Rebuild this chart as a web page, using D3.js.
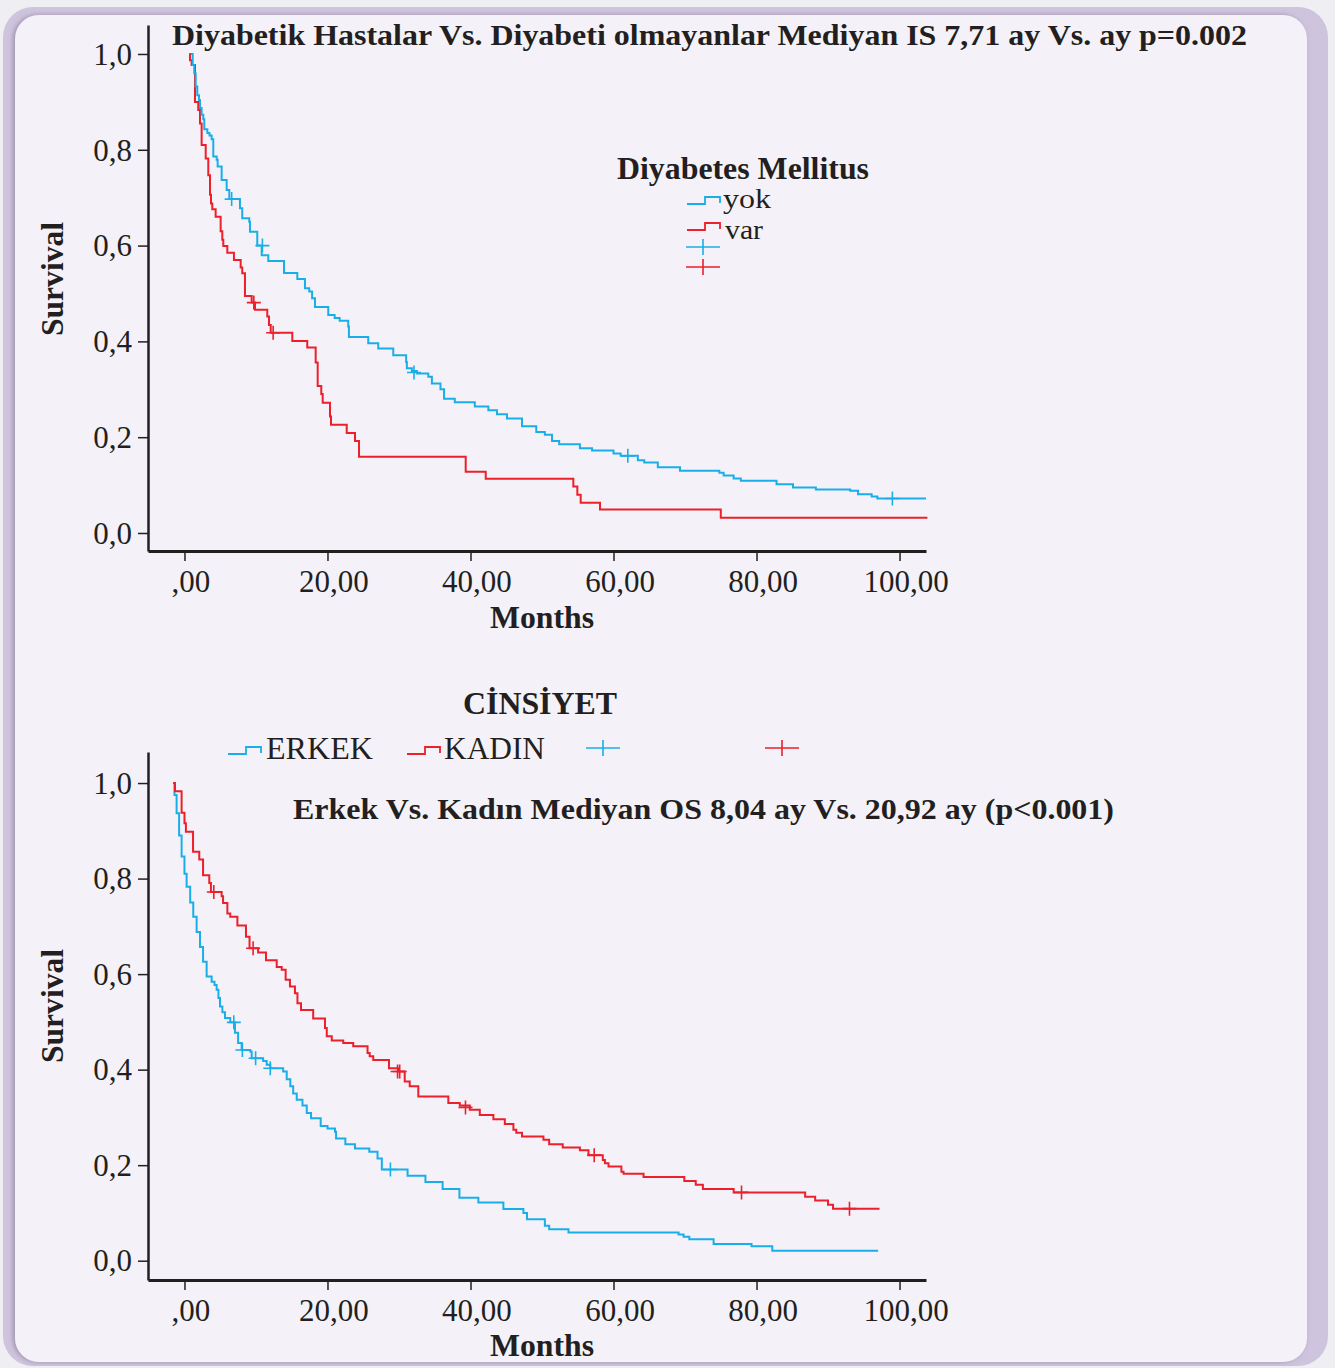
<!DOCTYPE html>
<html><head><meta charset="utf-8">
<script src="https://cdn.jsdelivr.net/npm/d3@7"></script>
<style>body{margin:0;background:#eeeef3}svg{display:block}</style>
</head><body><svg id="c" width="1335" height="1368"></svg>
<script>
// ---------- DATA ----------
const xTickValues = [0, 20, 40, 60, 80, 100];
const xTickLabels = [",00", "20,00", "40,00", "60,00", "80,00", "100,00"];
const yTickValues = [0, 0.2, 0.4, 0.6, 0.8, 1.0];
const yTickLabels = ["0,0", "0,2", "0,4", "0,6", "0,8", "1,0"];

const title1 = "Diyabetik Hastalar Vs. Diyabeti olmayanlar Mediyan IS 7,71 ay Vs. ay p=0.002";
const legend1Title = "Diyabetes Mellitus";
const legend1Labels = ["yok", "var"];
const title2 = "Erkek Vs. Kadın Mediyan OS 8,04 ay Vs. 20,92 ay (p<0.001)";
const legend2Title = "CİNSİYET";
const legend2Labels = ["ERKEK", "KADIN"];
const yLabel = "Survival";
const xLabel = "Months";

// Top chart: [time, survival]
const yokCurve = [[0.9,1.0],[1.15,0.977],[1.37,0.96],[1.57,0.932],[1.79,0.914],[2.03,0.904],[2.17,0.887],[2.4,0.873],[2.63,0.864],[2.77,0.843],[3.2,0.835],[3.5,0.83],[3.8,0.822],[4.03,0.786],[4.5,0.779],[4.64,0.765],[5.2,0.737],[5.9,0.716],[6.27,0.697],[7.76,0.678],[8.08,0.657],[9.06,0.65],[9.16,0.629],[10.18,0.60],[10.8,0.58],[11.72,0.568],[13.92,0.543],[15.78,0.53],[16.85,0.511],[17.45,0.504],[17.85,0.49],[18.25,0.472],[20.11,0.455],[21.0,0.449],[21.7,0.443],[22.9,0.431],[23.0,0.409],[25.7,0.396],[27.1,0.385],[29.2,0.371],[31.0,0.357],[31.1,0.344],[31.8,0.338],[32.5,0.333],[34.1,0.326],[34.6,0.312],[35.8,0.30],[36.3,0.28],[37.8,0.273],[40.6,0.264],[42.5,0.256],[43.7,0.248],[45.1,0.239],[47.2,0.223],[49.2,0.211],[50.4,0.205],[51.4,0.192],[52.4,0.185],[55.3,0.177],[57.0,0.172],[60.0,0.166],[61.0,0.161],[63.4,0.152],[64.3,0.147],[66.2,0.137],[69.3,0.130],[74.8,0.126],[75.4,0.12],[76.8,0.114],[77.8,0.109],[82.8,0.102],[85.1,0.095],[88.3,0.091],[93.1,0.088],[94.2,0.081],[96.1,0.076],[96.9,0.072],[103.7,0.072]];
const varCurve = [[0.67,1.0],[0.77,0.987],[1.0,0.977],[1.47,0.90],[1.93,0.883],[2.17,0.855],[2.4,0.81],[2.97,0.782],[3.33,0.747],[3.57,0.706],[3.71,0.688],[3.89,0.676],[4.36,0.66],[5.06,0.63],[5.29,0.612],[5.43,0.599],[5.99,0.585],[6.92,0.57],[7.86,0.554],[8.08,0.542],[8.46,0.495],[9.4,0.481],[9.86,0.466],[11.58,0.452],[11.82,0.434],[12.06,0.418],[15.08,0.401],[17.17,0.387],[18.35,0.356],[18.63,0.307],[19.13,0.29],[19.33,0.272],[20.35,0.243],[20.49,0.226],[22.69,0.209],[23.85,0.192],[24.41,0.159],[39.33,0.128],[42.13,0.113],[54.38,0.097],[54.94,0.08],[55.41,0.063],[58.11,0.049],[75.0,0.032],[103.9,0.032]];
const yokCensored = [[6.6,0.697],[10.9,0.60],[32.1,0.335],[62.0,0.161],[99.0,0.072]];
const varCensored = [[9.7,0.481],[12.4,0.418]];

// Bottom chart: [time, survival]
const erkekCurve = [[-1.6,1.0],[-1.4,0.975],[-1.1,0.937],[-0.75,0.89],[-0.4,0.846],[0.0,0.81],[0.3,0.783],[0.8,0.75],[1.23,0.72],[1.7,0.688],[2.17,0.657],[2.6,0.626],[3.1,0.595],[3.8,0.584],[4.2,0.577],[4.5,0.567],[4.75,0.55],[4.97,0.532],[5.3,0.52],[5.67,0.508],[6.4,0.499],[7.06,0.477],[7.5,0.456],[8.0,0.441],[9.2,0.438],[9.4,0.424],[11.0,0.418],[11.5,0.41],[12.0,0.403],[13.8,0.396],[14.3,0.38],[14.8,0.365],[15.2,0.35],[15.7,0.337],[16.5,0.325],[17.1,0.309],[17.7,0.298],[19.05,0.282],[20.0,0.277],[21.05,0.27],[21.2,0.256],[22.5,0.244],[23.85,0.235],[25.85,0.228],[27.0,0.214],[27.6,0.191],[31.2,0.178],[33.7,0.165],[36.1,0.15],[38.45,0.132],[41.1,0.122],[44.6,0.108],[47.4,0.1],[47.9,0.087],[50.4,0.073],[51.0,0.066],[53.7,0.059],[69.1,0.055],[69.8,0.05],[70.6,0.045],[74.0,0.035],[79.3,0.03],[82.2,0.021],[97.0,0.021]];
const kadinCurve = [[-1.57,1.0],[-1.33,0.983],[-0.4,0.938],[0.0,0.916],[0.2,0.898],[1.2,0.856],[2.07,0.84],[2.6,0.807],[3.47,0.791],[3.7,0.772],[5.2,0.763],[5.4,0.749],[6.0,0.727],[6.4,0.72],[7.4,0.702],[8.6,0.678],[9.1,0.654],[10.3,0.645],[11.4,0.629],[12.9,0.615],[13.6,0.609],[14.15,0.588],[14.75,0.574],[15.45,0.56],[15.8,0.539],[16.3,0.525],[18.0,0.507],[19.65,0.487],[19.9,0.47],[20.6,0.461],[22.2,0.456],[23.6,0.449],[25.6,0.435],[25.9,0.428],[26.4,0.42],[28.6,0.403],[29.9,0.396],[30.8,0.375],[31.5,0.365],[32.7,0.344],[36.9,0.33],[38.5,0.325],[39.9,0.316],[41.3,0.305],[43.2,0.296],[44.8,0.286],[46.0,0.274],[46.4,0.268],[47.2,0.26],[50.2,0.253],[51.0,0.244],[52.9,0.237],[55.3,0.231],[56.5,0.221],[58.5,0.211],[58.8,0.204],[59.3,0.197],[61.1,0.186],[61.4,0.182],[64.2,0.175],[69.9,0.167],[71.5,0.159],[72.5,0.150],[76.8,0.143],[86.8,0.134],[88.2,0.126],[90.0,0.117],[90.7,0.109],[97.2,0.109]];
const erkekCensored = [[6.9,0.499],[8.1,0.441],[9.95,0.424],[12.0,0.403],[28.8,0.191]];
const kadinCensored = [[4.1,0.772],[9.6,0.654],[29.8,0.396],[30.1,0.396],[39.3,0.321],[57.3,0.221],[77.9,0.143],[93.0,0.109]];

// ---------- DRAW ----------
const CYAN = "#1aaee8", RED = "#ec1f2b", INK = "#231f20";
const SERIF = "'Liberation Serif','Times New Roman',serif";
const svg = d3.select("#c");

const defs = svg.append("defs");
const f = defs.append("filter").attr("id","sh").attr("x","-5%").attr("y","-5%").attr("width","110%").attr("height","110%");
f.append("feDropShadow").attr("dx",-2).attr("dy",0).attr("stdDeviation",2.5).attr("flood-color","#6f6680").attr("flood-opacity",0.55);

svg.append("rect").attr("x",3).attr("y",7).attr("width",1325).attr("height",1359).attr("rx",30).attr("fill","#cfc4de");
svg.append("rect").attr("x",15).attr("y",15).attr("width",1292).attr("height",1347).attr("rx",24)
  .attr("fill","#f4f2f8").attr("filter","url(#sh)");

const x = d3.scaleLinear().domain([-5.1, 103.7]).range([148, 926]);

function chart(y, y0, curves, censors) {
  const gy = svg.append("g").attr("transform","translate(148,0)")
    .call(d3.axisLeft(y).tickValues(yTickValues).tickFormat((d,i)=>yTickLabels[i]).tickSize(10).tickSizeOuter(0).tickPadding(6));
  const gx = svg.append("g").attr("transform",`translate(0,${y0})`)
    .call(d3.axisBottom(x).tickValues(xTickValues).tickFormat((d,i)=>xTickLabels[i]).tickSize(10).tickSizeOuter(0));
  [gy, gx].forEach(g => {
    g.selectAll("line").attr("stroke", INK).attr("stroke-width", 1.5);
    g.selectAll("text").attr("fill", INK).style("font-family", SERIF).style("font-size","31px");
  });
  gy.select(".domain").attr("stroke", INK).attr("stroke-width", 2.5);
  gx.select(".domain").attr("stroke", INK).attr("stroke-width", 3.2);
  gx.selectAll("text").attr("y", 41).attr("dy", 0).attr("dx", 6);
  gy.selectAll("text").attr("dy", "0.33em");

  const line = d3.line().x(d=>x(d[0])).y(d=>y(d[1])).curve(d3.curveStepAfter);
  curves.forEach(c => {
    svg.append("path").datum(c.data).attr("d", line).attr("fill","none")
      .attr("stroke", c.color).attr("stroke-width", 2).attr("stroke-linejoin","miter");
  });
  censors.forEach(c => {
    svg.append("g").selectAll("path").data(c.data).join("path")
      .attr("d", d => { const px = x(d[0]), py = y(d[1]); return `M${px-7},${py}H${px+7}M${px},${py-7}V${py+7}`; })
      .attr("stroke", c.color).attr("stroke-width", 1.6).attr("fill","none");
  });
}

const y1 = d3.scaleLinear().domain([-0.0376, 1.0605]).range([551, 25]);
const y2 = d3.scaleLinear().domain([-0.0404, 1.065]).range([1280, 752]);

chart(y1, 551, [{data: varCurve, color: RED}, {data: yokCurve, color: CYAN}],
  [{data: yokCensored, color: CYAN}, {data: varCensored, color: RED}]);
chart(y2, 1280, [{data: erkekCurve, color: CYAN}, {data: kadinCurve, color: RED}],
  [{data: erkekCensored, color: CYAN}, {data: kadinCensored, color: RED}]);

function txt(s, xx, yy, size, bold, anchor, len) {
  const t = svg.append("text").attr("x", xx).attr("y", yy).text(s)
    .attr("fill", INK).style("font-family", SERIF).style("font-size", size + "px")
    .style("font-weight", bold ? "bold" : "normal").attr("text-anchor", anchor || "start");
  if (len) t.attr("textLength", len).attr("lengthAdjust", "spacingAndGlyphs");
  return t;
}

// Titles / labels
txt(title1, 172, 45, 30, true, "start", 1075);
txt(title2, 293, 819, 30, true, "start", 821);
[279, 1006].forEach(cy => {
  txt(yLabel, 0, 0, 31, true, "middle", 114).attr("transform", `translate(63,${cy}) rotate(-90)`);
});
txt(xLabel, 542, 628, 31, true, "middle", 104);
txt(xLabel, 542, 1356, 31, true, "middle", 104);

// Legend top
txt(legend1Title, 617, 179, 31, true, "start", 252);
const stepSym = (x0, yl, col) => svg.append("path")
  .attr("d", `M${x0},${yl}H${x0+18}V${yl-7}H${x0+33}V${yl-1}`).attr("fill","none").attr("stroke", col).attr("stroke-width", 1.8);
const crossSym = (cx, cy, col) => svg.append("path")
  .attr("d", `M${cx-17},${cy}H${cx+17}M${cx},${cy-8}V${cy+8}`).attr("fill","none").attr("stroke", col).attr("stroke-width", 1.6);
stepSym(687, 204, CYAN); txt(legend1Labels[0], 723, 208, 27, false, "start", 48);
stepSym(687, 230, RED);  txt(legend1Labels[1], 725, 239, 27, false, "start", 38);
crossSym(703, 247, CYAN);
crossSym(703, 267, RED);

// Legend bottom
txt(legend2Title, 540, 714, 31, true, "middle", 154);
stepSym(228, 754, CYAN); txt(legend2Labels[0], 266, 759, 31, false, "start", 107);
stepSym(407, 754, RED);  txt(legend2Labels[1], 444, 759, 31, false, "start", 101);
crossSym(603, 748, CYAN);
crossSym(782, 748, RED);
</script></body></html>
